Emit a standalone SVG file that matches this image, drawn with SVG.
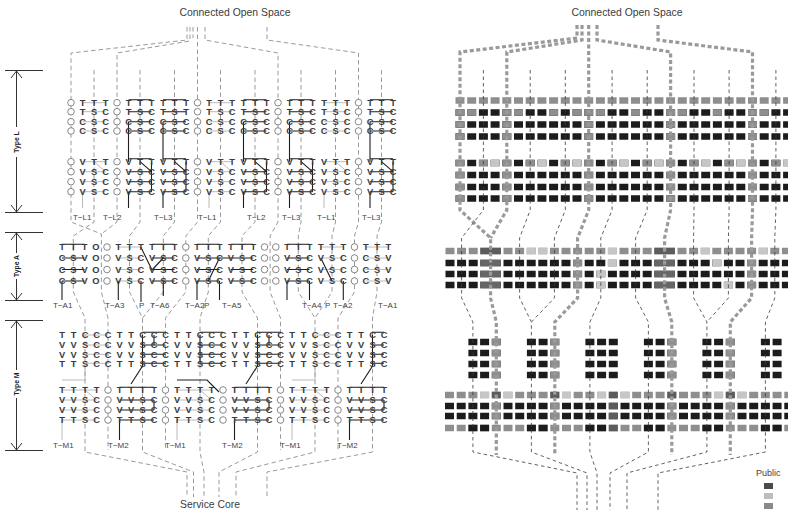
<svg xmlns="http://www.w3.org/2000/svg" width="788" height="510" viewBox="0 0 788 510">
<style>
text{font-family:"Liberation Sans",Arial,sans-serif}
.t{font-size:10.4px;fill:#3c3c3c;text-anchor:middle}
.lt{font-size:9.3px;font-weight:bold;fill:#3a3a3a;text-anchor:middle}
.lb{font-size:8px;fill:#444}
.ty{font-size:6.8px;font-weight:bold;fill:#222;text-anchor:middle}
.o{fill:#fff;stroke:#7a7a7a;stroke-width:0.9}
.gd{fill:none;stroke:#9a9a9a;stroke-width:1;stroke-dasharray:4.5 3}
.kl{fill:none;stroke:#1e1e1e;stroke-width:1.1}
.gl{fill:none;stroke:#a8a8a8;stroke-width:0.8}
.dim{fill:none;stroke:#333;stroke-width:1}
.bk,.bg,.bka,.bga,.bm,.bmt{fill:none;stroke-width:6.5}
.bk{stroke:#1c1c1c;stroke-dasharray:9 2.7}
.bg{stroke:#8e8e8e;stroke-dasharray:9 2.7}
.bka{stroke:#1c1c1c;stroke-dasharray:9 2.6}
.bga{stroke:#8e8e8e;stroke-dasharray:9 2.6}
.bm{stroke:#1c1c1c;stroke-dasharray:9 2.7 9 2.7 9 26.1}
.bmt{stroke:#1c1c1c;stroke-dasharray:9 2.7 9 37.8}
.g{fill:#8e8e8e}.l{fill:#c6c6c6}.d{fill:#5c5c5c}
.th{fill:none;stroke:#9a9a9a;stroke-width:3.2;stroke-dasharray:4 2.5}
.tn{fill:none;stroke:#3a3a3a;stroke-width:0.8;stroke-dasharray:3.5 3}
</style>
<defs><rect id="c" width="9" height="6.5"/></defs>
<rect width="788" height="510" fill="#fff"/>

<g id="titles">
<text class="t" x="235" y="16">Connected Open Space</text>
<text class="t" x="627" y="16">Connected Open Space</text>
<text class="t" x="210" y="508">Service Core</text>
</g>

<g id="dimensions">
<g id="dim-typeL">
<path class="dim" d="M5,70.5H43M5,212.5H43M16.5,71V127M16.5,157V212M11,78L16.5,71L22,78M11,205L16.5,212L22,205"/>
<text class="ty" transform="translate(19,142) rotate(-90)">Type L</text>
</g>
<g id="dim-typeA">
<path class="dim" d="M5,232.5H43M5,300.5H43M16.5,233V253M16.5,279V300M11,240L16.5,233L22,240M11,293L16.5,300L22,293"/>
<text class="ty" transform="translate(19,266) rotate(-90)">Type A</text>
</g>
<g id="dim-typeM">
<path class="dim" d="M5,320.5H43M5,450.5H43M16.5,321V370M16.5,398V450M11,328L16.5,321L22,328M11,443L16.5,450L22,443"/>
<text class="ty" transform="translate(19,384) rotate(-90)">Type M</text>
</g>
</g>

<g id="connectors-left">
<path class="gd" d="M187,27V40L71,53V222L101.4,234V292L108,318V450"/>
<path class="gd" d="M190,27V41L117,53V222L101.4,234"/>
<path class="gd" d="M193,27V38"/>
<path class="gd" d="M94,70V222L73.3,236V292L85,318V452L187,472V497"/>
<path class="gd" d="M140,70V222L129.5,236V292L142.5,318V452L193.5,472V497"/>
<path class="gd" d="M174.5,70V222L163.3,236V292L142.5,318"/>
<path class="gd" d="M197.5,27V222L185.8,236V292L165.5,318V450"/>
<path class="gd" d="M220.5,70V222L208.3,236V292L200,318V452L204,472V497"/>
<path class="gd" d="M255,70V222L242,236V292L257.5,318V452L219,472V497"/>
<path class="gd" d="M205,27V40L278,53V222L270.1,236V292L280.5,318V450"/>
<path class="gd" d="M301,70V222L298.3,236V292L315,318V452L236,472V497"/>
<path class="gd" d="M335.5,70V222L332,236V292L315,318"/>
<path class="gd" d="M267,27V40L358.5,53V222L354.5,236V292L338,318V450"/>
<path class="gd" d="M381.5,70V222L377,236V292L372.5,318V452L267,472V497"/>
</g>

<g id="left-typeL">
<path class="gl" d="M82.5,102.7H105.5M209,102.7H232M324,102.7H347M82.5,111.7H105.5M209,111.7H232M324,111.7H347M82.5,121.7H105.5M209,121.7H232M324,121.7H347M82.5,131H105.5M209,131H232M324,131H347M82.5,161.7H105.5M209,161.7H232M324,161.7H347M82.5,171.7H105.5M209,171.7H232M324,171.7H347M82.5,181.7H105.5M209,181.7H232M324,181.7H347M82.5,191.7H105.5M209,191.7H232M324,191.7H347M82.5,191.7V208M94,161.7L105.5,171.7M209,191.7V208M220.5,161.7L232,171.7M324,191.7V208M335.5,161.7L347,171.7"/>
<path class="kl" d="M128.5,99.7H151.5M163,99.7H186M243.5,99.7H266.5M289.5,99.7H312.5M370,99.7H393M128.5,111.7H151.5M163,111.7H186M243.5,111.7H266.5M289.5,111.7H312.5M370,111.7H393M128.5,121.7H151.5M163,121.7H186M243.5,121.7H266.5M289.5,121.7H312.5M370,121.7H393M128.5,131H151.5M163,131H186M243.5,131H266.5M289.5,131H312.5M370,131H393M128.5,158.7H151.5M163,158.7H186M243.5,158.7H266.5M289.5,158.7H312.5M370,158.7H393M128.5,171.7H151.5M163,171.7H186M243.5,171.7H266.5M289.5,171.7H312.5M370,171.7H393M128.5,181.7H151.5M163,181.7H186M243.5,181.7H266.5M289.5,181.7H312.5M370,181.7H393M128.5,191.7H151.5M163,191.7H186M243.5,191.7H266.5M289.5,191.7H312.5M370,191.7H393M128.5,121.7V161.7M151.5,161.7V191.7M128.5,191.7V208M140,161.7L151.5,171.7M163,121.7V161.7M186,161.7V191.7M163,191.7V208M174.5,161.7L186,171.7M243.5,121.7V161.7M266.5,161.7V191.7M243.5,191.7V208M255,161.7L266.5,171.7M289.5,121.7V161.7M312.5,161.7V191.7M289.5,191.7V208M301,161.7L312.5,171.7M370,121.7V161.7M393,161.7V191.7M370,191.7V208M381.5,161.7L393,171.7"/>
<text class="lt" x="82.5 94 105.5 128.5 140 151.5 163 174.5 186 209 220.5 232 243.5 255 266.5 289.5 301 312.5 324 335.5 347 370 381.5 393" y="106">TTTTTTTTTTTTTTTTTTTTTTTT</text>
<text class="lt" x="82.5 94 105.5 128.5 140 151.5 163 174.5 186 209 220.5 232 243.5 255 266.5 289.5 301 312.5 324 335.5 347 370 381.5 393" y="115">TSCTSCTSTTSCTSCTSCTSCTSC</text>
<text class="lt" x="82.5 94 105.5 128.5 140 151.5 163 174.5 186 209 220.5 232 243.5 255 266.5 289.5 301 312.5 324 335.5 347 370 381.5 393" y="125">CSCCSCCSCCSCCSCCSCCSCCSC</text>
<text class="lt" x="82.5 94 105.5 128.5 140 151.5 163 174.5 186 209 220.5 232 243.5 255 266.5 289.5 301 312.5 324 335.5 347 370 381.5 393" y="134.3">CSCCSCCSCCSCCSCCSCCSCCSC</text>
<text class="lt" x="82.5 94 105.5 128.5 140 151.5 163 174.5 186 209 220.5 232 243.5 255 266.5 289.5 301 312.5 324 335.5 347 370 381.5 393" y="165">VTTVTTVTTVTTVTTVTTVTTVTT</text>
<text class="lt" x="82.5 94 105.5 128.5 140 151.5 163 174.5 186 209 220.5 232 243.5 255 266.5 289.5 301 312.5 324 335.5 347 370 381.5 393" y="175">VSCVSCVSCVSCVSCVSCVSCVSC</text>
<text class="lt" x="82.5 94 105.5 128.5 140 151.5 163 174.5 186 209 220.5 232 243.5 255 266.5 289.5 301 312.5 324 335.5 347 370 381.5 393" y="185">VSCVSCVSCVSCVSCVSCVSCVSC</text>
<text class="lt" x="82.5 94 105.5 128.5 140 151.5 163 174.5 186 209 220.5 232 243.5 255 266.5 289.5 301 312.5 324 335.5 347 370 381.5 393" y="195">VSCVSCVSCVSCVSCVSCVSCVSC</text>
<g class="o">
<circle cx="71" cy="102.7" r="3.3"/><circle cx="117" cy="102.7" r="3.3"/><circle cx="197.5" cy="102.7" r="3.3"/><circle cx="278" cy="102.7" r="3.3"/><circle cx="358.5" cy="102.7" r="3.3"/>
<circle cx="71" cy="111.7" r="3.3"/><circle cx="117" cy="111.7" r="3.3"/><circle cx="197.5" cy="111.7" r="3.3"/><circle cx="278" cy="111.7" r="3.3"/><circle cx="358.5" cy="111.7" r="3.3"/>
<circle cx="71" cy="121.7" r="3.3"/><circle cx="117" cy="121.7" r="3.3"/><circle cx="197.5" cy="121.7" r="3.3"/><circle cx="278" cy="121.7" r="3.3"/><circle cx="358.5" cy="121.7" r="3.3"/>
<circle cx="71" cy="131" r="3.3"/><circle cx="117" cy="131" r="3.3"/><circle cx="197.5" cy="131" r="3.3"/><circle cx="278" cy="131" r="3.3"/><circle cx="358.5" cy="131" r="3.3"/>
<circle cx="71" cy="161.7" r="3.3"/><circle cx="117" cy="161.7" r="3.3"/><circle cx="197.5" cy="161.7" r="3.3"/><circle cx="278" cy="161.7" r="3.3"/><circle cx="358.5" cy="161.7" r="3.3"/>
<circle cx="71" cy="171.7" r="3.3"/><circle cx="117" cy="171.7" r="3.3"/><circle cx="197.5" cy="171.7" r="3.3"/><circle cx="278" cy="171.7" r="3.3"/><circle cx="358.5" cy="171.7" r="3.3"/>
<circle cx="71" cy="181.7" r="3.3"/><circle cx="117" cy="181.7" r="3.3"/><circle cx="197.5" cy="181.7" r="3.3"/><circle cx="278" cy="181.7" r="3.3"/><circle cx="358.5" cy="181.7" r="3.3"/>
<circle cx="71" cy="191.7" r="3.3"/><circle cx="117" cy="191.7" r="3.3"/><circle cx="197.5" cy="191.7" r="3.3"/><circle cx="278" cy="191.7" r="3.3"/><circle cx="358.5" cy="191.7" r="3.3"/>
</g>
<g class="lb">
<text x="73" y="220">T−L1</text><text x="103" y="220">T−L2</text><text x="154" y="220">T−L3</text><text x="198" y="220">T−L1</text><text x="247" y="220">T−L2</text><text x="282" y="220">T−L3</text><text x="317" y="220">T−L1</text><text x="362" y="220">T−L3</text>
</g>
</g>

<g id="left-typeA">
<path class="gl" d="M118.3,247H140.8M320.8,247H343.3M365.8,247H388.3M118.3,258H140.8M320.8,258H343.3M365.8,258H388.3M118.3,269.5H140.8M320.8,269.5H343.3M365.8,269.5H388.3M118.3,281H140.8M320.8,281H343.3M365.8,281H388.3"/>
<path class="kl" d="M62,244.3H84.5M152,244.3H174.5M197,244.3H219.5M230.8,244.3H253.3M287,244.3H309.5M62,258H84.5M152,258H174.5M197,258H219.5M230.8,258H253.3M287,258H309.5M62,269.5H84.5M152,269.5H174.5M197,269.5H219.5M230.8,269.5H253.3M287,269.5H309.5M62,281H84.5M152,281H174.5M197,281H219.5M230.8,281H253.3M287,281H309.5M140.8,247L152,270L163.3,258M208.3,281L219.5,258L230.8,258M320.8,258L332,281M62,281V300M118.3,281V300M141,281V302M163.3,281V296M197,281V300M219.5,281V300M287,281V300M309.5,281V300M343.3,281V300"/>
<text class="lt" x="62 73.3 84.5 95.8 118.3 129.5 140.8 152 163.3 174.5 197 208.3 219.5 230.8 242 253.3 287 298.3 309.5 320.8 332 343.3 365.8 377 388.3" y="250.3">TTTOTTTTTTTTTTTTTTTTTTTTT</text>
<text class="lt" x="62 73.3 84.5 95.8 118.3 129.5 140.8 152 163.3 174.5 197 208.3 219.5 230.8 242 253.3 287 298.3 309.5 320.8 332 343.3 365.8 377 388.3" y="261.3">CSVOVSCVSCVSCVSCVSCVSCCSV</text>
<text class="lt" x="62 73.3 84.5 95.8 118.3 129.5 140.8 152 163.3 174.5 197 208.3 219.5 230.8 242 253.3 287 298.3 309.5 320.8 332 343.3 365.8 377 388.3" y="272.8">CSVOVSCVSCVSCVSCVSCVSCCSV</text>
<text class="lt" x="62 73.3 84.5 95.8 118.3 129.5 140.8 152 163.3 174.5 197 208.3 219.5 230.8 242 253.3 287 298.3 309.5 320.8 332 343.3 365.8 377 388.3" y="284.3">CSVOVSCVSCVSCVSCVSCVSCCSV</text>
<g class="o">
<circle cx="107" cy="247" r="3.3"/><circle cx="185.8" cy="247" r="3.3"/><circle cx="264.5" cy="247" r="3.3"/><circle cx="275.8" cy="247" r="3.3"/><circle cx="354.5" cy="247" r="3.3"/>
<circle cx="107" cy="258" r="3.3"/><circle cx="185.8" cy="258" r="3.3"/><circle cx="264.5" cy="258" r="3.3"/><circle cx="275.8" cy="258" r="3.3"/><circle cx="354.5" cy="258" r="3.3"/>
<circle cx="107" cy="269.5" r="3.3"/><circle cx="185.8" cy="269.5" r="3.3"/><circle cx="264.5" cy="269.5" r="3.3"/><circle cx="275.8" cy="269.5" r="3.3"/><circle cx="354.5" cy="269.5" r="3.3"/>
<circle cx="107" cy="281" r="3.3"/><circle cx="185.8" cy="281" r="3.3"/><circle cx="264.5" cy="281" r="3.3"/><circle cx="275.8" cy="281" r="3.3"/><circle cx="354.5" cy="281" r="3.3"/>
</g>
<g class="lb">
<text x="53" y="308">T−A1</text><text x="105" y="308">T−A3</text><text x="139" y="308">P</text><text x="150" y="308">T−A6</text><text x="185" y="308">T−A2</text><text x="204" y="308">P</text><text x="222" y="308">T−A5</text><text x="302" y="308">T−A4</text><text x="325" y="308">P</text><text x="333" y="308">T−A2</text><text x="378" y="308">T−A1</text>
</g>
</g>

<g id="left-typeM">
<path class="gl" d="M85,335H108M315,335H338M85,345H108M315,345H338M85,354.3H108M315,354.3H338M85,363.3H108M315,363.3H338M62,380H85V366M292,380H315V366M62,390H96.5M177,390H211.5M292,390H326.5M62,400H96.5M177,400H211.5M292,400H326.5M62,410H96.5M177,410H211.5M292,410H326.5M62,420H96.5M177,420H211.5M292,420H326.5M85,390L96.5,400M200,390L211.5,400M315,390L326.5,400M62,420V440M177,420V440M292,420V440"/>
<path class="kl" d="M142.5,332.3H165.5M200,332.3H223M257.5,332.3H280.5M372.5,332.3H384M142.5,345H165.5M200,345H223M257.5,345H280.5M372.5,345H384M142.5,354.3H165.5M200,354.3H223M257.5,354.3H280.5M372.5,354.3H384M142.5,363.3H165.5M200,363.3H223M257.5,363.3H280.5M372.5,363.3H384M142.5,335V366L131,384M154,335V345M257.5,335V366L246,384M269,335V345M372.5,335V366L361,384M200,335V363M177,380H207L219,392M119.5,387.3H154M234.5,387.3H269M349.5,387.3H384M119.5,400H154M234.5,400H269M349.5,400H384M119.5,410H154M234.5,410H269M349.5,410H384M119.5,420H154M234.5,420H269M349.5,420H384M154,400V410M119.5,420V440M269,400V410M234.5,420V440M384,400V410M349.5,420V440"/>
<text class="lt" x="62 73.5 85 96.5 108 119.5 131 142.5 154 165.5 177 188.5 200 211.5 223 234.5 246 257.5 269 280.5 292 303.5 315 326.5 338 349.5 361 372.5 384" y="338.3">TTCCCTTCCCTTCCCTTCCCTTCCCTTCC</text>
<text class="lt" x="62 73.5 85 96.5 108 119.5 131 142.5 154 165.5 177 188.5 200 211.5 223 234.5 246 257.5 269 280.5 292 303.5 315 326.5 338 349.5 361 372.5 384" y="348.3">VVSCCVVSCCVVSCCVVSCCVVSCCVVSC</text>
<text class="lt" x="62 73.5 85 96.5 108 119.5 131 142.5 154 165.5 177 188.5 200 211.5 223 234.5 246 257.5 269 280.5 292 303.5 315 326.5 338 349.5 361 372.5 384" y="357.6">VVSCCVVSCCVVSCCVVSCCVVSCCVVSC</text>
<text class="lt" x="62 73.5 85 96.5 108 119.5 131 142.5 154 165.5 177 188.5 200 211.5 223 234.5 246 257.5 269 280.5 292 303.5 315 326.5 338 349.5 361 372.5 384" y="366.6">TTSCCTTSCCTTSCCTTSCCTTSCCTTSC</text>
<text class="lt" x="62 73.5 85 96.5 119.5 131 142.5 154 177 188.5 200 211.5 234.5 246 257.5 269 292 303.5 315 326.5 349.5 361 372.5 384" y="393.3">TTTTTTTTTTTTTTTTTTTTTTTT</text>
<text class="lt" x="62 73.5 85 96.5 119.5 131 142.5 154 177 188.5 200 211.5 234.5 246 257.5 269 292 303.5 315 326.5 349.5 361 372.5 384" y="403.3">VVSCVVSCVVSCVVSCVVSCVVSC</text>
<text class="lt" x="62 73.5 85 96.5 119.5 131 142.5 154 177 188.5 200 211.5 234.5 246 257.5 269 292 303.5 315 326.5 349.5 361 372.5 384" y="413.3">VVSCVVSCVVSCVVSCVVSCVVSC</text>
<text class="lt" x="62 73.5 85 96.5 119.5 131 142.5 154 177 188.5 200 211.5 234.5 246 257.5 269 292 303.5 315 326.5 349.5 361 372.5 384" y="423.3">TTSCTTSCTTSCTTSCTTSCTTSC</text>
<g class="o">
<circle cx="108" cy="390" r="3.3"/><circle cx="165.5" cy="390" r="3.3"/><circle cx="223" cy="390" r="3.3"/><circle cx="280.5" cy="390" r="3.3"/><circle cx="338" cy="390" r="3.3"/>
<circle cx="108" cy="400" r="3.3"/><circle cx="165.5" cy="400" r="3.3"/><circle cx="223" cy="400" r="3.3"/><circle cx="280.5" cy="400" r="3.3"/><circle cx="338" cy="400" r="3.3"/>
<circle cx="108" cy="410" r="3.3"/><circle cx="165.5" cy="410" r="3.3"/><circle cx="223" cy="410" r="3.3"/><circle cx="280.5" cy="410" r="3.3"/><circle cx="338" cy="410" r="3.3"/>
<circle cx="108" cy="420" r="3.3"/><circle cx="165.5" cy="420" r="3.3"/><circle cx="223" cy="420" r="3.3"/><circle cx="280.5" cy="420" r="3.3"/><circle cx="338" cy="420" r="3.3"/>
</g>
<g class="lb">
<text x="53" y="448">T−M1</text><text x="108" y="448">T−M2</text><text x="165" y="448">T−M1</text><text x="222" y="448">T−M2</text><text x="280" y="448">T−M1</text><text x="337" y="448">T−M2</text>
</g>
</g>

<g id="right-typeL">
<path class="bg" d="M455.5,100.5H792"/>
<path class="bk" d="M455.5,112.5H792M455.5,124.5H792M455.5,136.5H792M455.5,163H792M455.5,175H792M455.5,187H792M455.5,198.5H792"/>
<g class="g">
<use href="#c" x="455.5" y="109.25"/><use href="#c" x="467.2" y="109.25"/><use href="#c" x="502.3" y="109.25"/><use href="#c" x="514" y="109.25"/><use href="#c" x="549.1" y="109.25"/><use href="#c" x="572.5" y="109.25"/><use href="#c" x="584.2" y="109.25"/><use href="#c" x="595.9" y="109.25"/><use href="#c" x="631" y="109.25"/><use href="#c" x="666.1" y="109.25"/><use href="#c" x="677.8" y="109.25"/><use href="#c" x="712.9" y="109.25"/><use href="#c" x="748" y="109.25"/><use href="#c" x="759.7" y="109.25"/>
<use href="#c" x="455.5" y="121.25"/><use href="#c" x="502.3" y="121.25"/><use href="#c" x="584.2" y="121.25"/><use href="#c" x="666.1" y="121.25"/><use href="#c" x="748" y="121.25"/>
<use href="#c" x="455.5" y="133.25"/><use href="#c" x="502.3" y="133.25"/><use href="#c" x="584.2" y="133.25"/><use href="#c" x="666.1" y="133.25"/><use href="#c" x="748" y="133.25"/>
<use href="#c" x="455.5" y="159.75"/><use href="#c" x="502.3" y="159.75"/><use href="#c" x="584.2" y="159.75"/><use href="#c" x="666.1" y="159.75"/><use href="#c" x="748" y="159.75"/><use href="#c" x="478.9" y="159.75"/><use href="#c" x="525.7" y="159.75"/><use href="#c" x="560.8" y="159.75"/><use href="#c" x="607.6" y="159.75"/><use href="#c" x="642.7" y="159.75"/><use href="#c" x="689.5" y="159.75"/><use href="#c" x="724.6" y="159.75"/><use href="#c" x="771.4" y="159.75"/>
<use href="#c" x="455.5" y="171.75"/><use href="#c" x="502.3" y="171.75"/><use href="#c" x="584.2" y="171.75"/><use href="#c" x="666.1" y="171.75"/><use href="#c" x="748" y="171.75"/>
<use href="#c" x="455.5" y="183.75"/><use href="#c" x="502.3" y="183.75"/><use href="#c" x="584.2" y="183.75"/><use href="#c" x="666.1" y="183.75"/><use href="#c" x="748" y="183.75"/>
<use href="#c" x="455.5" y="195.25"/><use href="#c" x="502.3" y="195.25"/><use href="#c" x="584.2" y="195.25"/><use href="#c" x="666.1" y="195.25"/><use href="#c" x="748" y="195.25"/>
</g>
<g class="l">
<use href="#c" x="490.6" y="159.75"/><use href="#c" x="537.4" y="159.75"/><use href="#c" x="572.5" y="159.75"/><use href="#c" x="619.3" y="159.75"/><use href="#c" x="654.4" y="159.75"/><use href="#c" x="701.2" y="159.75"/><use href="#c" x="736.3" y="159.75"/><use href="#c" x="783.1" y="159.75"/>
</g>
</g>

<g id="right-typeA">
<path class="bga" d="M445.5,251H792"/>
<path class="bka" d="M445.5,263H792M445.5,274H792M445.5,285H792"/>
<g class="d">
<rect x="480.3" y="247.75" width="20.6" height="6.5"/><rect x="654.3" y="247.75" width="20.6" height="6.5"/>
</g>
<g fill="#666">
<rect x="480.3" y="259.75" width="20.6" height="6.5"/><rect x="654.3" y="259.75" width="20.6" height="6.5"/>
<rect x="480.3" y="270.75" width="20.6" height="6.5"/><rect x="654.3" y="270.75" width="20.6" height="6.5"/>
<rect x="480.3" y="281.75" width="20.6" height="6.5"/><rect x="654.3" y="281.75" width="20.6" height="6.5"/>
</g>
<g class="g">
<use href="#c" x="573.1" y="259.75"/><use href="#c" x="747.1" y="259.75"/><use href="#c" x="573.1" y="270.75"/><use href="#c" x="747.1" y="270.75"/><use href="#c" x="573.1" y="281.75"/><use href="#c" x="747.1" y="281.75"/>
</g>
<g class="l">
<use href="#c" x="526.7" y="247.75"/><use href="#c" x="538.3" y="247.75"/><use href="#c" x="607.9" y="247.75"/><use href="#c" x="700.7" y="247.75"/><use href="#c" x="758.7" y="247.75"/>
<use href="#c" x="607.9" y="259.75"/><use href="#c" x="712.3" y="259.75"/><use href="#c" x="596.3" y="270.75"/><use href="#c" x="596.3" y="281.75"/><use href="#c" x="723.9" y="281.75"/>
</g>
</g>

<g id="right-typeM">
<path class="bm" d="M468.4,342H784M468.4,353H784M468.4,364H784M468.4,375H784"/>
<path class="bg" d="M445,395H792M445,428H792"/>
<path class="bk" d="M445,406H792M445,416H792"/>
<path class="bmt" d="M468.4,428H792"/>
<g class="g">
<use href="#c" x="491.8" y="338.75"/><use href="#c" x="550.3" y="338.75"/><use href="#c" x="667.3" y="338.75"/><use href="#c" x="725.8" y="338.75"/>
<use href="#c" x="491.8" y="349.75"/><use href="#c" x="550.3" y="349.75"/><use href="#c" x="667.3" y="349.75"/><use href="#c" x="725.8" y="349.75"/>
<use href="#c" x="491.8" y="360.75"/><use href="#c" x="550.3" y="360.75"/><use href="#c" x="667.3" y="360.75"/><use href="#c" x="725.8" y="360.75"/>
<use href="#c" x="491.8" y="371.75"/><use href="#c" x="550.3" y="371.75"/><use href="#c" x="667.3" y="371.75"/><use href="#c" x="725.8" y="371.75"/>
<use href="#c" x="491.8" y="402.75"/><use href="#c" x="550.3" y="402.75"/><use href="#c" x="667.3" y="402.75"/><use href="#c" x="725.8" y="402.75"/>
<use href="#c" x="491.8" y="412.75"/><use href="#c" x="550.3" y="412.75"/><use href="#c" x="667.3" y="412.75"/><use href="#c" x="725.8" y="412.75"/>
</g>
<g class="l">
<use href="#c" x="480.1" y="391.75"/><use href="#c" x="503.5" y="391.75"/><use href="#c" x="562" y="391.75"/><use href="#c" x="597.1" y="391.75"/><use href="#c" x="620.5" y="391.75"/><use href="#c" x="714.1" y="391.75"/><use href="#c" x="737.5" y="391.75"/>
</g>
<g class="d">
<use href="#c" x="491.8" y="391.75"/><use href="#c" x="550.3" y="391.75"/><use href="#c" x="608.8" y="391.75"/><use href="#c" x="667.3" y="391.75"/><use href="#c" x="725.8" y="391.75"/>
<use href="#c" x="608.8" y="402.75"/><use href="#c" x="608.8" y="412.75"/><use href="#c" x="608.8" y="424.75"/>
</g>
</g>

<g id="connectors-right">
<path class="th" d="M577,25V38L460,52V210L490.6,238V298L496.3,322V455"/>
<path class="th" d="M582,25V40L506.8,52V210L490.6,238"/>
<path class="th" d="M588.7,25V210L577.6,238V298L554.8,322V455"/>
<path class="th" d="M597,25V40L670.6,52V210L664.6,238V298L671.8,322V455"/>
<path class="th" d="M658,25V40L752.5,52V210L751.6,238V298L730.3,322V455"/>
<path class="tn" d="M483.4,70V210L461.6,238V298L472.9,322V452L577,473V510"/>
<path class="tn" d="M530.2,70V210L519.6,238V298L531.4,322V452L587,473V510"/>
<path class="tn" d="M565.3,70V210L554.4,238V298L531.4,322"/>
<path class="tn" d="M612.1,70V210L600.8,238V298L589.9,322V452L597,473V510"/>
<path class="tn" d="M647.2,70V210L635.6,238V298L648.4,322V452L610,473V510"/>
<path class="tn" d="M694,70V210L693.6,238V298L706.9,322V452L627,473V510"/>
<path class="tn" d="M729.1,70V210L728.4,238V298L706.9,322"/>
<path class="tn" d="M775.9,70V210L774.8,238V298L765.4,322V452L658,473V510"/>
</g>

<g id="legend">
<text x="756" y="475.5" style="font-size:9px;fill:#444">Public</text>
<rect x="764" y="483" width="9" height="6" fill="#4a4a4a"/>
<rect x="764" y="493" width="9" height="6" fill="#bdbdbd"/>
<rect x="764" y="503" width="9" height="6" fill="#8a8a8a"/>
</g>
</svg>
